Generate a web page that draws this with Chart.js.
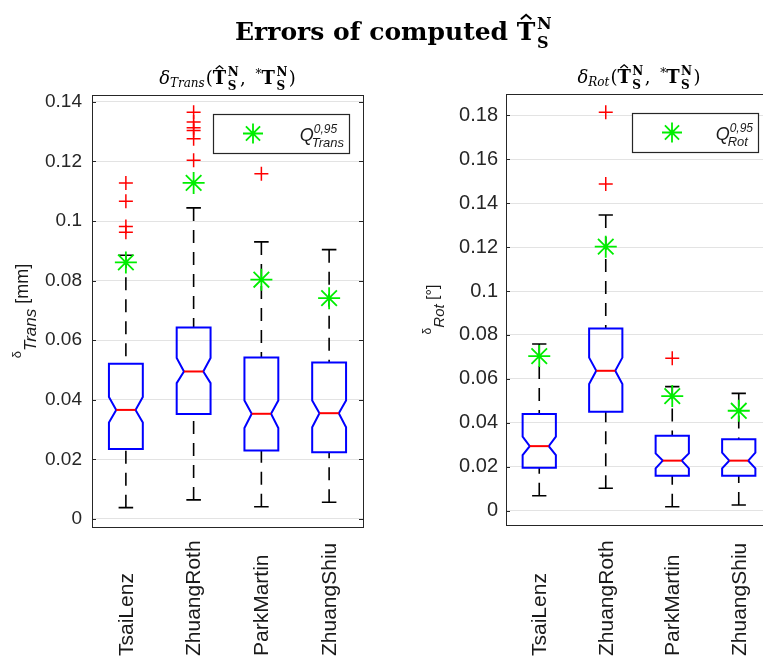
<!DOCTYPE html>
<html>
<head>
<meta charset="utf-8">
<script src="https://cdn.jsdelivr.net/npm/chart.js@4.4.1/dist/chart.umd.min.js"></script>
<style>
  html, body { margin: 0; padding: 0; background: #fff; }
  #wrap { position: relative; width: 763px; height: 657px; overflow: hidden; }
  canvas { position: absolute; top: 0; }
</style>
</head>
<body>
<div id="wrap">
  <canvas id="cTitre" width="763" height="60" style="left:0"></canvas>
  <canvas id="cTrans" width="400" height="657" style="left:0"></canvas>
  <canvas id="cRot" width="400" height="657" style="left:400px"></canvas>
</div>
<script>
// Méthodes comparées
const methods = ['TsaiLenz', 'ZhuangRoth', 'ParkMartin', 'ZhuangShiu'];

// Erreur de translation [mm]
const transQ1 = [0.0235, 0.0352, 0.0230, 0.0224];
const transMed = [0.0366, 0.0495, 0.0353, 0.0355];
const transQ3 = [0.0521, 0.0643, 0.0542, 0.0525];
const transNotchLo = [0.0324, 0.0456, 0.0305, 0.0308];
const transNotchHi = [0.0409, 0.0540, 0.0398, 0.0398];
const transWhiskLo = [0.0038, 0.0064, 0.0041, 0.0056];
const transWhiskHi = [0.0885, 0.1044, 0.0930, 0.0904];
const transOutliers = [
  [0.1128, 0.1066, 0.0982, 0.0962],
  [0.1365, 0.1332, 0.1313, 0.1304, 0.1276, 0.1204],
  [0.1159],
  []
];
const transQ95 = [0.0861, 0.1128, 0.0803, 0.0741];
const transTicks = [0, 0.02, 0.04, 0.06, 0.08, 0.1, 0.12, 0.14];

// Erreur de rotation [°]
const rotQ1 = [0.0196, 0.0451, 0.0159, 0.0159];
const rotMed = [0.0294, 0.0637, 0.0228, 0.0228];
const rotQ3 = [0.0440, 0.0830, 0.0341, 0.0325];
const rotNotchLo = [0.0253, 0.0577, 0.0193, 0.0193];
const rotNotchHi = [0.0337, 0.0697, 0.0261, 0.0264];
const rotWhiskLo = [0.0068, 0.0102, 0.0018, 0.0026];
const rotWhiskHi = [0.0759, 0.1346, 0.0565, 0.0534];
const rotOutliers = [
  [],
  [0.1814, 0.1487],
  [0.0694],
  []
];
const rotQ95 = [0.0704, 0.1202, 0.0522, 0.0455];
const rotTicks = [0, 0.02, 0.04, 0.06, 0.08, 0.1, 0.12, 0.14, 0.16, 0.18];

const SANS = '"Liberation Sans", Arial, sans-serif';
const SERIF = '"DejaVu Serif", serif';

function font(r) {
  return (r.i ? 'italic ' : '') + (r.b ? 'bold ' : '') + r.s + 'px ' + (r.fam || SERIF);
}

// Texte « mathématique » : suite de morceaux avec indices / exposants
function drawRuns(ctx, runs, x, y, align) {
  const widths = runs.map(r => {
    ctx.font = font(r);
    const tw = ctx.measureText(r.t).width;
    let w = tw;
    if (r.stack) {
      r.stack.forEach(st => {
        ctx.font = font(st);
        w = Math.max(w, tw + (st.dx || 0) + ctx.measureText(st.t).width);
      });
    }
    return w + (r.gap || 0);
  });
  const total = widths.reduce((a, b) => a + b, 0);
  let cx = align === 'center' ? x - total / 2 : align === 'right' ? x - total : x;
  ctx.textAlign = 'left';
  ctx.textBaseline = 'alphabetic';
  runs.forEach((r, k) => {
    ctx.font = font(r);
    const tw = ctx.measureText(r.t).width;
    ctx.fillText(r.t, cx, y + (r.dy || 0));
    if (r.hat) {
      const top = y + (r.dy || 0) - r.s * 0.73;
      ctx.save();
      ctx.lineWidth = r.s > 18 ? 2 : 1.3;
      ctx.strokeStyle = ctx.fillStyle;
      ctx.beginPath();
      ctx.moveTo(cx + tw * 0.22, top - r.s * 0.1);
      ctx.lineTo(cx + tw * 0.5, top - r.s * 0.28);
      ctx.lineTo(cx + tw * 0.78, top - r.s * 0.1);
      ctx.stroke();
      ctx.restore();
    }
    if (r.stack) {
      r.stack.forEach(st => {
        ctx.font = font(st);
        ctx.fillText(st.t, cx + tw + (st.dx || 0), y + st.dy);
      });
    }
    cx += widths[k];
  });
}

// T̂ ou T avec indice S et exposant N
function tRuns(size, hat) {
  const small = Math.round(size * 0.64);
  return {
    t: 'T', s: size, b: true, hat: hat, gap: size * 0.08,
    stack: [
      { t: 'N', s: small, b: true, dy: -size * 0.45, dx: 1.5 },
      { t: 'S', s: small, b: true, dy: size * 0.32, dx: 1.5 }
    ]
  };
}

function subtitleRuns(sub) {
  return [
    { t: 'δ', s: 18, i: true },
    { t: sub, s: 12, i: true, dy: 3, gap: 1 },
    { t: '(', s: 18 },
    tRuns(18, true),
    { t: ', ', s: 18, gap: 4 },
    { t: '*', s: 12, dy: -6 },
    tRuns(18, false),
    { t: ')', s: 18 }
  ];
}

function drawStar(ctx, px, py, r) {
  const d = r * Math.SQRT1_2;
  ctx.beginPath();
  ctx.moveTo(px - r, py); ctx.lineTo(px + r, py);
  ctx.moveTo(px, py - r); ctx.lineTo(px, py + r);
  ctx.moveTo(px - d, py - d); ctx.lineTo(px + d, py + d);
  ctx.moveTo(px - d, py + d); ctx.lineTo(px + d, py - d);
  ctx.stroke();
}

// Boîtes à moustaches avec encoche, cadre, légende et textes de l'axe
function boxPlugin(p) {
  return {
    id: 'boites',
    beforeDatasetsDraw(chart) {
      const { ctx, chartArea: a, scales: { x, y } } = chart;
      ctx.save();
      // cadre + graduations intérieures
      ctx.strokeStyle = '#262626';
      ctx.lineWidth = 1;
      ctx.strokeRect(a.left + 0.5, a.top + 0.5, a.right - a.left, a.bottom - a.top);
      p.ticks.forEach(v => {
        const py = Math.round(y.getPixelForValue(v)) + 0.5;
        ctx.beginPath();
        ctx.moveTo(a.left, py); ctx.lineTo(a.left + 4, py);
        ctx.moveTo(a.right, py); ctx.lineTo(a.right - 4, py);
        ctx.stroke();
      });

      const hw = x.getPixelForValue(1.25) - x.getPixelForValue(1);
      const nw = hw * 0.57;
      const cw = hw * 0.43;
      methods.forEach((m, i) => {
        const xc = x.getPixelForValue(i + 1);
        const yq1 = y.getPixelForValue(p.q1[i]);
        const yq3 = y.getPixelForValue(p.q3[i]);
        const ym = y.getPixelForValue(p.med[i]);
        const ynl = y.getPixelForValue(p.notchLo[i]);
        const ynh = y.getPixelForValue(p.notchHi[i]);
        const ywl = y.getPixelForValue(p.whiskLo[i]);
        const ywh = y.getPixelForValue(p.whiskHi[i]);

        // moustaches
        ctx.strokeStyle = '#000';
        ctx.lineWidth = 1.6;
        ctx.setLineDash([13, 9]);
        ctx.beginPath();
        ctx.moveTo(xc, ywh); ctx.lineTo(xc, yq3);
        ctx.moveTo(xc, ywl); ctx.lineTo(xc, yq1);
        ctx.stroke();
        ctx.setLineDash([]);
        ctx.beginPath();
        ctx.moveTo(xc - cw, ywh); ctx.lineTo(xc + cw, ywh);
        ctx.moveTo(xc - cw, ywl); ctx.lineTo(xc + cw, ywl);
        ctx.stroke();

        // boîte encochée
        ctx.strokeStyle = '#0000ff';
        ctx.lineWidth = 2;
        ctx.beginPath();
        ctx.moveTo(xc - hw, yq3);
        ctx.lineTo(xc - hw, ynh);
        ctx.lineTo(xc - nw, ym);
        ctx.lineTo(xc - hw, ynl);
        ctx.lineTo(xc - hw, yq1);
        ctx.lineTo(xc + hw, yq1);
        ctx.lineTo(xc + hw, ynl);
        ctx.lineTo(xc + nw, ym);
        ctx.lineTo(xc + hw, ynh);
        ctx.lineTo(xc + hw, yq3);
        ctx.closePath();
        ctx.stroke();

        // médiane
        ctx.strokeStyle = '#ff0000';
        ctx.beginPath();
        ctx.moveTo(xc - nw, ym); ctx.lineTo(xc + nw, ym);
        ctx.stroke();
      });
      ctx.restore();
    },
    afterDatasetsDraw(chart) {
      const { ctx, chartArea: a } = chart;
      ctx.save();
      // légende
      const lx = a.right - 14 - p.legendW, ly = a.top + 19, lh = 39;
      ctx.fillStyle = '#fff';
      ctx.fillRect(lx, ly, p.legendW, lh);
      ctx.strokeStyle = '#262626';
      ctx.lineWidth = 1.2;
      ctx.strokeRect(lx + 0.5, ly + 0.5, p.legendW, lh);
      ctx.strokeStyle = '#00ee00';
      ctx.lineWidth = 1.8;
      drawStar(ctx, lx + 40, ly + lh / 2, 10);
      ctx.fillStyle = '#1a1a1a';
      drawRuns(ctx, [{
        t: 'Q', s: 18, i: true, fam: SANS,
        stack: [
          { t: '0,95', s: 12, i: true, fam: SANS, dy: -8, dx: 0 },
          { t: p.legSub, s: 13, i: true, fam: SANS, dy: 6, dx: -2 }
        ]
      }], lx + p.legendW - 5, ly + 27, 'right');

      // titre de l'axe
      ctx.fillStyle = '#1a1a1a';
      ctx.save();
      ctx.translate(p.ylabX, (a.top + a.bottom) / 2);
      ctx.rotate(-Math.PI / 2);
      drawRuns(ctx, p.ylabRuns, 0, 0, 'center');
      ctx.restore();

      // noms des méthodes, verticaux
      const x = chart.scales.x;
      ctx.font = '21px ' + SANS;
      ctx.fillStyle = '#1a1a1a';
      ctx.textAlign = 'left';
      ctx.textBaseline = 'middle';
      methods.forEach((m, i) => {
        ctx.save();
        ctx.translate(x.getPixelForValue(i + 1) + 1, 656);
        ctx.rotate(-Math.PI / 2);
        ctx.fillText(m, 0, 0);
        ctx.restore();
      });

      // sous-titre
      ctx.fillStyle = '#000';
      drawRuns(ctx, subtitleRuns(p.sub), (a.left + a.right) / 2, a.top - 11, 'center');
      ctx.restore();
    }
  };
}

function makePanel(id, p) {
  const outPts = [];
  p.outliers.forEach((list, i) => list.forEach(v => outPts.push({ x: i + 1, y: v })));
  const q95Pts = p.q95.map((v, i) => ({ x: i + 1, y: v }));

  return new Chart(document.getElementById(id), {
    type: 'scatter',
    data: {
      datasets: [
        {
          label: 'outliers',
          data: outPts,
          pointStyle: 'cross',
          radius: 7,
          borderColor: '#ff0000',
          borderWidth: 1.5
        },
        {
          label: 'Q95',
          data: q95Pts,
          pointStyle: 'star',
          radius: 11,
          borderColor: '#00ee00',
          backgroundColor: '#00ee00',
          borderWidth: 1.8
        }
      ]
    },
    options: {
      responsive: false,
      animation: false,
      events: [],
      layout: { padding: { top: p.top, right: p.padRight, bottom: p.padBottom, left: 0 } },
      plugins: { legend: { display: false }, tooltip: { enabled: false } },
      scales: {
        x: { type: 'linear', min: 0.5, max: 4.5, display: false },
        y: {
          min: p.ymin,
          max: p.ymax,
          afterFit: s => { s.width = p.yWidth; },
          afterBuildTicks: s => { s.ticks = p.ticks.map(v => ({ value: v })); },
          grid: { color: '#e3e3e3', lineWidth: 1, drawTicks: false },
          border: { display: false },
          ticks: {
            padding: p.tickPad,
            color: '#262626',
            font: { family: 'Liberation Sans', size: p.tickSize },
            callback: v => String(+v.toFixed(2))
          }
        }
      }
    },
    plugins: [boxPlugin(p)]
  });
}

makePanel('cTrans', {
  q1: transQ1, med: transMed, q3: transQ3,
  notchLo: transNotchLo, notchHi: transNotchHi,
  whiskLo: transWhiskLo, whiskHi: transWhiskHi,
  outliers: transOutliers, q95: transQ95, ticks: transTicks,
  ymin: -0.0027, ymax: 0.1423,
  top: 95, padRight: 37, padBottom: 130, yWidth: 92, tickPad: 10, tickSize: 19,
  legendW: 136, legSub: 'Trans', sub: 'Trans',
  ylabX: 28,
  ylabRuns: [
    { t: 'δ', s: 13, fam: SANS, dy: -7 },
    { t: 'Trans', s: 17, i: true, fam: SANS, dy: 8 },
    { t: ' [mm]', s: 18, fam: SANS }
  ]
});

makePanel('cRot', {
  q1: rotQ1, med: rotMed, q3: rotQ3,
  notchLo: rotNotchLo, notchHi: rotNotchHi,
  whiskLo: rotWhiskLo, whiskHi: rotWhiskHi,
  outliers: rotOutliers, q95: rotQ95, ticks: rotTicks,
  ymin: -0.0065, ymax: 0.1897,
  top: 94, padRight: 28, padBottom: 132, yWidth: 106, tickPad: 8, tickSize: 20,
  legendW: 126, legSub: 'Rot', sub: 'Rot',
  ylabX: 38,
  ylabRuns: [
    { t: 'δ', s: 12, fam: SANS, dy: -7 },
    { t: 'Rot', s: 15, i: true, fam: SANS, dy: 6 },
    { t: ' [°]', s: 16, fam: SANS }
  ]
});

// Titre général
const tctx = document.getElementById('cTitre').getContext('2d');
tctx.fillStyle = '#000';
drawRuns(tctx, [
  { t: 'Errors of computed ', s: 25, b: true },
  tRuns(25, true)
], 235, 40, 'left');
</script>
</body>
</html>
